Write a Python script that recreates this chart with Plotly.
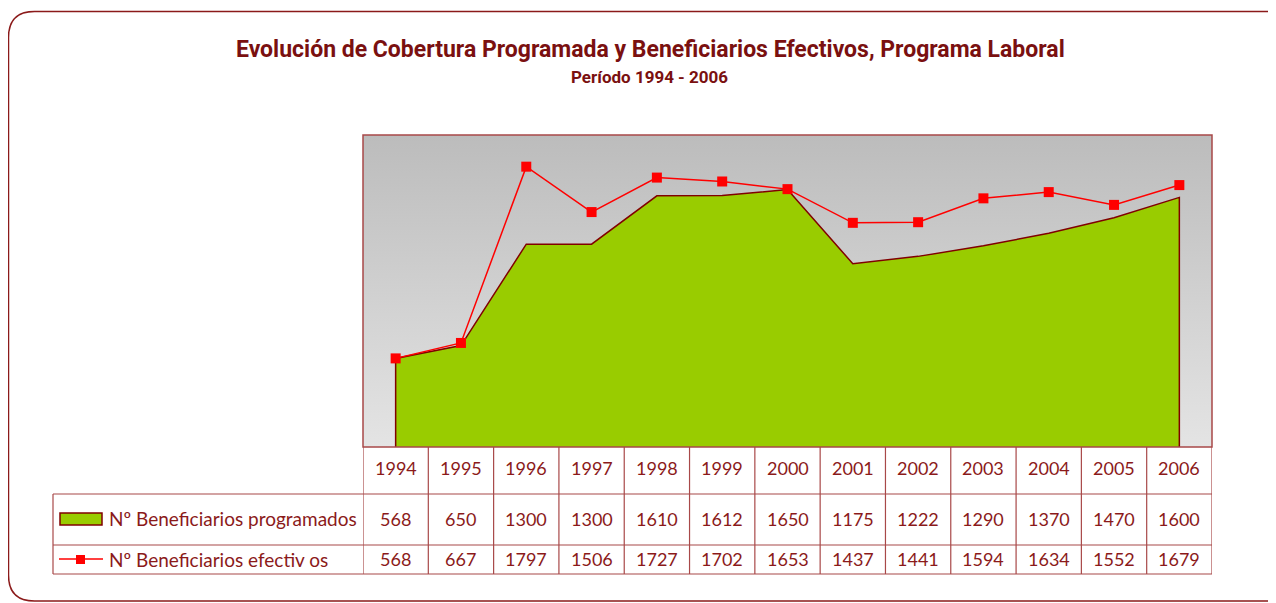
import plotly.graph_objects as go

# data
years = [1994, 1995, 1996, 1997, 1998, 1999, 2000, 2001, 2002, 2003, 2004, 2005, 2006]
programados = [568, 650, 1300, 1300, 1610, 1612, 1650, 1175, 1222, 1290, 1370, 1470, 1600]
efectivos = [568, 667, 1797, 1506, 1727, 1702, 1653, 1437, 1441, 1594, 1634, 1552, 1679]
series_names = ["Nº Beneficiarios programados", "Nº Beneficiarios efectiv os"]

title = "Evolución de Cobertura Programada y Beneficiarios Efectivos, Programa Laboral"
subtitle = "Período 1994 - 2006"

# page body has an 8px margin, so the figure is drawn from (8, 8)
OFF = 8
W, H = 1276 - OFF, 603 - OFF
DARK = "#8b1a1a"
GRID = "#a84848"
GREEN = "#99cc00"
RED = "#ff0000"
TXT_FONT = "Lato, Noto Sans, sans-serif"
TITLE_FONT = "Roboto, sans-serif"

x_lo, x_hi = years[0] - 0.5, years[-1] + 0.5
y_lo, y_hi = 0, 2000


def px(x):
    return (x - OFF) / W


def py(y):
    return 1 - (y - OFF) / H


fig = go.Figure()

# plot-area gradient background
fig.add_trace(go.Scatter(
    x=[x_lo, x_hi, x_hi, x_lo, x_lo], y=[y_lo, y_lo, y_hi, y_hi, y_lo],
    mode="lines", line=dict(width=0), fill="toself",
    fillgradient=dict(type="vertical", colorscale=[[0, "#e4e4e4"], [1, "#bcbcbc"]]),
    hoverinfo="skip", showlegend=False,
))

# programmed coverage area (closed down to zero at both ends)
fig.add_trace(go.Scatter(
    x=[years[0]] + years + [years[-1]], y=[0] + programados + [0],
    mode="lines", fill="toself", fillcolor=GREEN,
    line=dict(color="#800000", width=1.5),
    name=series_names[0], showlegend=False,
))

fig.add_trace(go.Scatter(
    x=years, y=efectivos, mode="lines+markers",
    line=dict(color=RED, width=1.5),
    marker=dict(symbol="square", size=10, color=RED),
    name=series_names[1], showlegend=False,
))

shapes = []
annotations = []

# outer rounded frame (right and bottom sides run off the page)
r = 26
x0, y0, x1, y1 = 8.5, 11.5, 1300, 601
path = (f"M {px(x0)},{py(y0 + r)} Q {px(x0)},{py(y0)} {px(x0 + r)},{py(y0)} "
        f"L {px(x1 - r)},{py(y0)} Q {px(x1)},{py(y0)} {px(x1)},{py(y0 + r)} "
        f"L {px(x1)},{py(y1)} L {px(x0 + r)},{py(y1)} "
        f"Q {px(x0)},{py(y1)} {px(x0)},{py(y1 - r)} Z")
shapes.append(dict(type="path", xref="paper", yref="paper", path=path,
                   line=dict(color=DARK, width=1.5)))

# plot border
shapes.append(dict(type="rect", xref="paper", yref="paper",
                   x0=px(363), x1=px(1212), y0=py(447), y1=py(135),
                   line=dict(color=GRID, width=1.5)))

# data table grid
tbl_left, tbl_right = 53, 1212
for yy in [494, 545, 574]:
    shapes.append(dict(type="line", xref="paper", yref="paper",
                       x0=px(tbl_left), x1=px(tbl_right), y0=py(yy), y1=py(yy),
                       line=dict(color=GRID, width=1.2)))
shapes.append(dict(type="line", xref="paper", yref="paper",
                   x0=px(tbl_left), x1=px(tbl_left), y0=py(494), y1=py(574),
                   line=dict(color=GRID, width=1.2)))
for i in range(len(years) + 1):
    xb = x_lo + i
    shapes.append(dict(type="line", xref="x", yref="paper",
                       x0=xb, x1=xb, y0=py(447), y1=py(574),
                       line=dict(color=GRID, width=1.2)))

# table text
for yr, p, e in zip(years, programados, efectivos):
    for val, yy in ((yr, 468), (p, 519), (e, 559)):
        annotations.append(dict(x=yr, y=py(yy), xref="x", yref="paper",
                                xanchor="center", yanchor="middle",
                                text=str(val), showarrow=False,
                                font=dict(family=TXT_FONT, size=18, color=DARK)))

# legend keys
shapes.append(dict(type="rect", xref="paper", yref="paper",
                   x0=px(60), x1=px(102), y0=py(525), y1=py(513),
                   fillcolor=GREEN, line=dict(color="#800000", width=1.5)))
shapes.append(dict(type="line", xref="paper", yref="paper",
                   x0=px(59), x1=px(103), y0=py(559), y1=py(559),
                   line=dict(color=RED, width=1.5)))
shapes.append(dict(type="rect", xref="paper", yref="paper",
                   x0=px(76), x1=px(85), y0=py(564), y1=py(555),
                   fillcolor=RED, line=dict(width=0)))
for name, yy in zip(series_names, (519, 559)):
    annotations.append(dict(x=px(107), y=py(yy), xref="paper", yref="paper",
                            xanchor="left", yanchor="middle", text=name, showarrow=False,
                            font=dict(family=TXT_FONT, size=19, color=DARK)))

# titles
annotations.append(dict(x=px(650), y=py(50), xref="paper", yref="paper",
                        xanchor="center", yanchor="middle",
                        text=f"<b>{title}</b>", showarrow=False,
                        font=dict(family=TITLE_FONT, size=23, color="#7a1010")))
annotations.append(dict(x=px(649), y=py(77), xref="paper", yref="paper",
                        xanchor="center", yanchor="middle",
                        text=f"<b>{subtitle}</b>", showarrow=False,
                        font=dict(family=TITLE_FONT, size=17, color="#7a1010")))

fig.update_layout(
    width=W, height=H,
    margin=dict(l=0, r=0, t=0, b=0),
    paper_bgcolor="white", plot_bgcolor="rgba(0,0,0,0)",
    xaxis=dict(domain=[px(363), px(1212)], range=[x_lo, x_hi],
               showgrid=False, zeroline=False, showticklabels=False, ticks=""),
    yaxis=dict(domain=[py(447), py(135)], range=[y_lo, y_hi],
               showgrid=False, zeroline=False, showticklabels=False, ticks=""),
    shapes=shapes, annotations=annotations,
    hovermode=False,
)

fig.write_html("out.html")
